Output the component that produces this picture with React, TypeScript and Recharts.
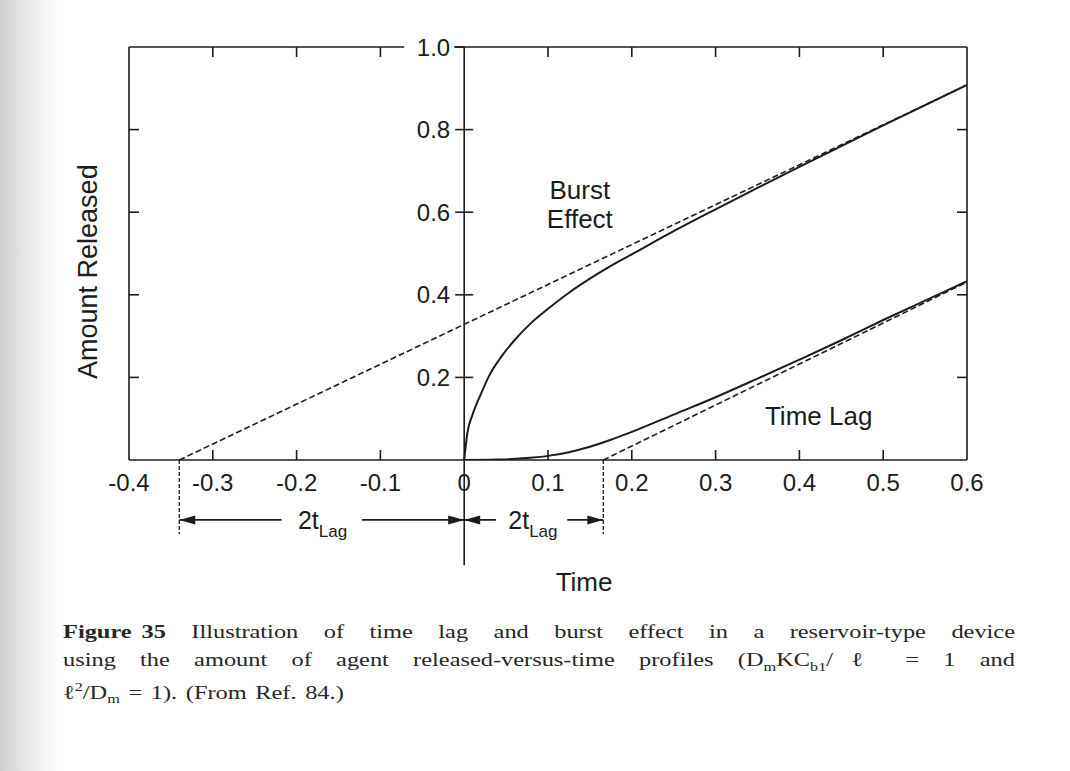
import React from 'react';
import {
  ComposedChart,
  Line,
  XAxis,
  YAxis,
  ReferenceLine,
  ReferenceDot,
} from 'recharts';

/* ------------------------------------------------------------------ */
/*  Data                                         */
/* ------------------------------------------------------------------ */

const X_TICKS = [-0.4, -0.3, -0.2, -0.1, 0, 0.1, 0.2, 0.3, 0.4, 0.5, 0.6];
const Y_TICKS = [0, 0.2, 0.4, 0.6, 0.8, 1.0];
const Y_CENTER_TICKS = [0.2, 0.4, 0.6, 0.8, 1.0];

// burst effect curve
const BURST_T = [0, 0.004, 0.01, 0.02, 0.03, 0.045, 0.06, 0.08, 0.1, 0.125, 0.15, 0.175, 0.2, 0.25, 0.3, 0.35, 0.4, 0.5, 0.6];
const BURST_M = [0, 0.068, 0.11, 0.16, 0.205, 0.252, 0.29, 0.332, 0.366, 0.405, 0.439, 0.47, 0.498, 0.554, 0.607, 0.659, 0.71, 0.81, 0.908];

// time lag curve
const LAG_T = [0, 0.04, 0.07, 0.1, 0.125, 0.15, 0.175, 0.2, 0.25, 0.3, 0.35, 0.4, 0.45, 0.5, 0.55, 0.6];
const LAG_M = [0, 0.001, 0.004, 0.01, 0.019, 0.032, 0.049, 0.068, 0.11, 0.152, 0.197, 0.243, 0.29, 0.339, 0.386, 0.433];

// steady-state asymptotes (dashed)
const BURST_ASYM_T = [-0.34, 0.6];
const BURST_ASYM_M = [0, 0.908];
const LAG_ASYM_T = [0.166, 0.6];
const LAG_ASYM_M = [0, 0.431];

const TWO_T_LAG = { burst: -0.34, lag: 0.166 };

const toPts = (xs: number[], ys: number[]) => xs.map((x, i) => ({ x, y: ys[i] }));

const burstData = toPts(BURST_T, BURST_M);
const lagData = toPts(LAG_T, LAG_M);
const burstAsym = toPts(BURST_ASYM_T, BURST_ASYM_M);
const lagAsym = toPts(LAG_ASYM_T, LAG_ASYM_M);

/* ------------------------------------------------------------------ */
/*  Styling                                                            */
/* ------------------------------------------------------------------ */

const FONT = '"Liberation Sans", Arial, Helvetica, sans-serif';
const SERIF = '"Liberation Serif", "Times New Roman", serif';
const INK = '#1c1c1c';
const AXIS_W = 1.6;
const TICK_LEN = 10;
const ARROW_Y = -0.145;
const CAPTION_STRETCH = 1.25; // scanned caption glyphs are wide

const fmt = (v: number) => (Math.abs(v) < 1e-9 ? '0' : v.toFixed(1));
const isInner = (v: number, lo: number, hi: number) =>
  v > lo + 1e-9 && v < hi - 1e-9 && Math.abs(v) > 1e-9;

/* ------------------------------------------------------------------ */
/*  Tick renderers (inward ticks)                                      */
/* ------------------------------------------------------------------ */

function BottomTick({ x, y, payload }: any) {
  const v = payload.value as number;
  return (
    <g>
      {isInner(v, -0.4, 0.6) && (
        <line x1={x} y1={y} x2={x} y2={y - TICK_LEN} stroke={INK} strokeWidth={AXIS_W} />
      )}
      <text x={x} y={y + 31} textAnchor="middle" fontSize={24} fill={INK} fontFamily={FONT}>
        {fmt(v)}
      </text>
    </g>
  );
}

function TopTick({ x, y, payload }: any) {
  const v = payload.value as number;
  if (!isInner(v, -0.4, 0.6)) return <g />;
  return <line x1={x} y1={y} x2={x} y2={y + TICK_LEN} stroke={INK} strokeWidth={AXIS_W} />;
}

function LeftTick({ x, y, payload }: any) {
  const v = payload.value as number;
  if (!(v > 0.01 && v < 0.99)) return <g />;
  return <line x1={x} y1={y} x2={x + TICK_LEN} y2={y} stroke={INK} strokeWidth={AXIS_W} />;
}

function RightTick({ x, y, payload }: any) {
  const v = payload.value as number;
  if (!(v > 0.01 && v < 0.99)) return <g />;
  return <line x1={x - TICK_LEN} y1={y} x2={x} y2={y} stroke={INK} strokeWidth={AXIS_W} />;
}

/* ------------------------------------------------------------------ */
/*  Shapes for the centre axis, arrows and annotations                 */
/* ------------------------------------------------------------------ */

const centerTick = (v: number) => (p: any) => {
  const { cx, cy } = p;
  const top = v > 0.99;
  return (
    <g>
      {top && <rect x={cx - 60} y={cy - 14} width={50} height={28} fill="#fff" />}
      <line x1={cx - 9} y1={cy} x2={top ? cx : cx + 9} y2={cy} stroke={INK} strokeWidth={AXIS_W} />
      <text
        x={cx - 14}
        y={cy}
        dy="0.36em"
        textAnchor="end"
        fontSize={24}
        fill={INK}
        fontFamily={FONT}
      >
        {fmt(v)}
      </text>
    </g>
  );
};

const arrowShape = (headAtStart: boolean) => (p: any) => {
  const { x1, y1, x2, y2 } = p;
  const tipX = headAtStart ? x1 : x2;
  const dir = headAtStart ? 1 : -1; // direction from tip toward tail
  const len = 16;
  const half = 4.5;
  return (
    <g>
      <line x1={x1} y1={y1} x2={x2} y2={y2} stroke={INK} strokeWidth={1.6} />
      <polygon
        points={`${tipX},${y1} ${tipX + dir * len},${y1 - half} ${tipX + dir * len},${y1 + half}`}
        fill={INK}
      />
    </g>
  );
};

const textShape =
  (text: string, size: number, anchor: 'start' | 'middle' | 'end' = 'middle') =>
  (p: any) => (
    <text x={p.cx} y={p.cy} textAnchor={anchor} fontSize={size} fill={INK} fontFamily={FONT}>
      {text}
    </text>
  );

const twoTLag = (p: any) => (
  <text x={p.cx} y={p.cy} dy={9} textAnchor="middle" fill={INK} fontFamily={FONT} fontSize={25}>
    2t
    <tspan fontSize={17} dy={8}>
      Lag
    </tspan>
  </text>
);

const yLabel = (p: any) => (
  <text
    x={p.cx}
    y={p.cy}
    transform={`rotate(-90 ${p.cx} ${p.cy})`}
    textAnchor="middle"
    dy="0.35em"
    fontSize={27}
    fill={INK}
    fontFamily={FONT}
  >
    Amount Released
  </text>
);

/* ------------------------------------------------------------------ */
/*  Caption                                                            */
/* ------------------------------------------------------------------ */

const lineStyle: React.CSSProperties = {
  textAlign: 'justify',
  textAlignLast: 'justify',
  whiteSpace: 'nowrap',
  height: 27.5,
};

const small: React.CSSProperties = { fontSize: 13 };

function Caption() {
  return (
    <div
      style={{
        position: 'absolute',
        left: 63,
        top: 618,
        width: 952 / CAPTION_STRETCH,
        transform: `scaleX(${CAPTION_STRETCH})`,
        transformOrigin: '0 0',
        fontFamily: SERIF,
        fontSize: 19.5,
        lineHeight: '27.5px',
        color: '#262626',
      }}
    >
      <div style={lineStyle}>
        <b style={{ display: 'inline-block', textAlignLast: 'auto', wordSpacing: '3px' }}>
          Figure 35
        </b>
        {'  Illustration of time lag and burst effect in a reservoir-type device'}
      </div>
      <div style={lineStyle}>
        {'using the amount of agent released-versus-time profiles (D'}
        <sub style={small}>m</sub>
        {'KC'}
        <sub style={small}>b1</sub>
        {'/ℓ = 1 and'}
      </div>
      <div style={{ whiteSpace: 'nowrap', height: 27.5, wordSpacing: '2px' }}>
        {'ℓ'}
        <sup style={small}>2</sup>
        {'/D'}
        <sub style={small}>m</sub>
        {' = 1). (From Ref. 84.)'}
      </div>
    </div>
  );
}

/* ------------------------------------------------------------------ */
/*  Chart                                                              */
/* ------------------------------------------------------------------ */

export default function App() {
  const lineCommon = {
    dataKey: 'y',
    stroke: INK,
    dot: false,
    activeDot: false,
    isAnimationActive: false,
  } as const;

  const axisCommon = {
    type: 'number' as const,
    interval: 0,
    tickSize: 0,
    tickMargin: 0,
    tickLine: false,
    axisLine: { stroke: INK, strokeWidth: AXIS_W },
    allowDataOverflow: true,
  };

  return (
    <div
      style={{
        position: 'absolute',
        left: 0,
        top: 0,
        width: 1070,
        height: 771,
        background: '#fff',
        overflow: 'hidden',
      }}
    >
      {/* scanned page edge */}
      <div
        style={{
          position: 'absolute',
          left: 0,
          top: 0,
          width: 60,
          height: 771,
          background: 'linear-gradient(to right, #cfcfcf, #e6e6e6 40%, rgba(255,255,255,0))',
        }}
      />
      <div style={{ position: 'absolute', left: 0, top: 0 }}>
        <ComposedChart
          width={1070}
          height={771}
          margin={{ top: 46, right: 102, bottom: 310, left: 128 }}
          style={{ fontFamily: FONT }}
        >
          <XAxis
            {...axisCommon}
            dataKey="x"
            domain={[-0.4, 0.6]}
            ticks={X_TICKS}
            height={1}
            tick={<BottomTick />}
          />
          <XAxis
            {...axisCommon}
            xAxisId="top"
            orientation="top"
            dataKey="x"
            domain={[-0.4, 0.6]}
            ticks={X_TICKS}
            height={1}
            tick={<TopTick />}
          />
          <YAxis {...axisCommon} domain={[0, 1]} ticks={Y_TICKS} width={1} tick={<LeftTick />} />
          <YAxis
            {...axisCommon}
            yAxisId="right"
            orientation="right"
            domain={[0, 1]}
            ticks={Y_TICKS}
            width={1}
            tick={<RightTick />}
          />

          {/* asymptotes */}
          <Line {...lineCommon} data={burstAsym} type="linear" strokeWidth={1.6} strokeDasharray="6 3" />
          <Line {...lineCommon} data={lagAsym} type="linear" strokeWidth={1.6} strokeDasharray="6 3" />

          {/* release profiles */}
          <Line {...lineCommon} data={burstData} type="monotone" strokeWidth={2} />
          <Line {...lineCommon} data={lagData} type="monotone" strokeWidth={2} />

          {/* centre axis through t = 0 */}
          <ReferenceLine
            segment={[{ x: 0, y: 1 }, { x: 0, y: -0.255 }]}
            stroke={INK}
            strokeWidth={AXIS_W}
            ifOverflow="visible"
          />
          {Y_CENTER_TICKS.map((v) => (
            <ReferenceDot key={v} x={0} y={v} r={0} ifOverflow="visible" shape={centerTick(v)} />
          ))}

          {/* 2 t_lag markers */}
          <ReferenceLine
            segment={[{ x: TWO_T_LAG.burst, y: 0 }, { x: TWO_T_LAG.burst, y: -0.18 }]}
            stroke={INK}
            strokeWidth={1.3}
            strokeDasharray="4 2"
            ifOverflow="visible"
          />
          <ReferenceLine
            segment={[{ x: TWO_T_LAG.lag, y: 0 }, { x: TWO_T_LAG.lag, y: -0.18 }]}
            stroke={INK}
            strokeWidth={1.3}
            strokeDasharray="4 2"
            ifOverflow="visible"
          />
          <ReferenceLine
            segment={[{ x: TWO_T_LAG.burst, y: ARROW_Y }, { x: -0.218, y: ARROW_Y }]}
            ifOverflow="visible"
            shape={arrowShape(true)}
          />
          <ReferenceLine
            segment={[{ x: -0.122, y: ARROW_Y }, { x: 0, y: ARROW_Y }]}
            ifOverflow="visible"
            shape={arrowShape(false)}
          />
          <ReferenceLine
            segment={[{ x: 0, y: ARROW_Y }, { x: 0.038, y: ARROW_Y }]}
            ifOverflow="visible"
            shape={arrowShape(true)}
          />
          <ReferenceLine
            segment={[{ x: 0.123, y: ARROW_Y }, { x: TWO_T_LAG.lag, y: ARROW_Y }]}
            ifOverflow="visible"
            shape={arrowShape(false)}
          />
          <ReferenceDot x={-0.169} y={ARROW_Y} r={0} ifOverflow="visible" shape={twoTLag} />
          <ReferenceDot x={0.082} y={ARROW_Y} r={0} ifOverflow="visible" shape={twoTLag} />

          {/* annotations */}
          <ReferenceDot x={0.138} y={0.632} r={0} ifOverflow="visible" shape={textShape('Burst', 26)} />
          <ReferenceDot x={0.138} y={0.562} r={0} ifOverflow="visible" shape={textShape('Effect', 26)} />
          <ReferenceDot x={0.423} y={0.085} r={0} ifOverflow="visible" shape={textShape('Time Lag', 26)} />

          {/* axis titles */}
          <ReferenceDot x={0.143} y={-0.296} r={0} ifOverflow="visible" shape={(p: any) => (
            <text x={p.cx} y={p.cy} dy="0.35em" textAnchor="middle" fontSize={26} fill={INK} fontFamily={FONT}>
              Time
            </text>
          )} />
          <ReferenceDot x={-0.449} y={0.456} r={0} ifOverflow="visible" shape={yLabel} />
        </ComposedChart>
      </div>
      <Caption />
    </div>
  );
}
